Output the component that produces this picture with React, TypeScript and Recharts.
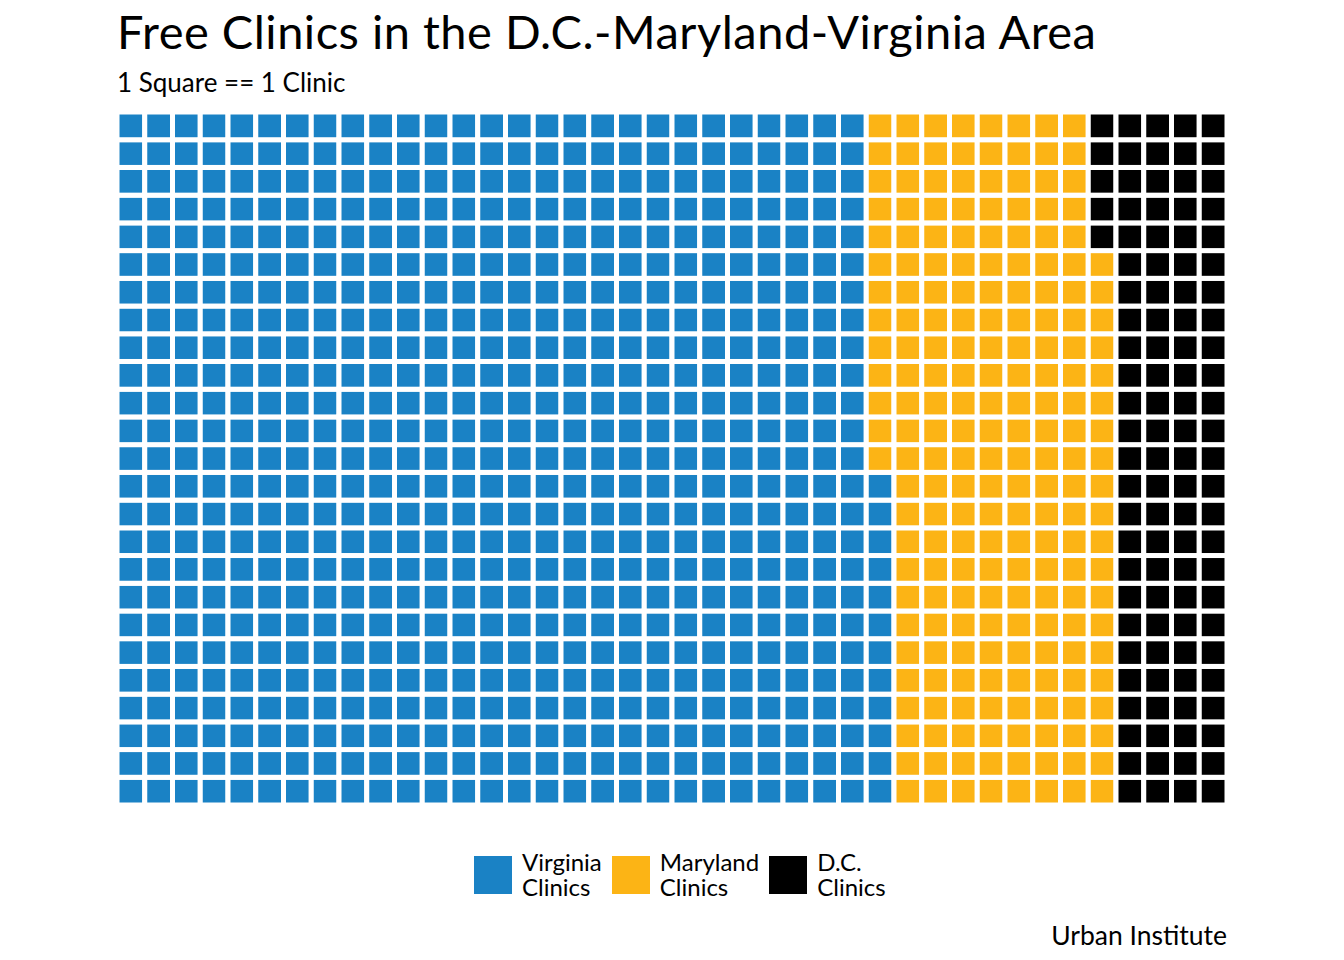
import { ScatterChart, Scatter, XAxis, YAxis, ReferenceArea } from "recharts"

// one square per clinic, 40 columns x 25 rows, filled column by column from the bottom
const categories = ["Virginia Clinics", "Maryland Clinics", "D.C. Clinics"]
const legendLines = [
  ["Virginia", "Clinics"],
  ["Maryland", "Clinics"],
  ["D.C.", "Clinics"],
]
const clinicCounts = [687, 208, 105]
const categoryColors = ["#1a82c5", "#fcb415", "#000000"]
const gridColumns = 40
const gridRows = 25

const chartWidth = 1344
const chartHeight = 960
const margin = { top: 112, right: 117, bottom: 155, left: 117 }
const plotWidth = chartWidth - margin.left - margin.right
const plotHeight = chartHeight - margin.top - margin.bottom
const tileW = plotWidth / gridColumns
const tileH = plotHeight / gridRows

type Cell = { col: number; row: number; category: string }

function buildCells(): Cell[][] {
  const series: Cell[][] = categories.map(() => [])
  let index = 0
  clinicCounts.forEach((count, ci) => {
    for (let k = 0; k < count; k++) {
      const col = Math.floor(index / gridRows)
      const row = index % gridRows
      series[ci].push({ col: col + 0.5, row: row + 0.5, category: categories[ci] })
      index++
    }
  })
  return series
}

const cellSeries = buildCells()

const fontFamily = "Lato, 'Open Sans', sans-serif"

function Tile(props: any) {
  const { cx, cy, fill } = props
  if (cx == null || cy == null) return null
  return (
    <rect
      x={cx - tileW / 2}
      y={cy - tileH / 2}
      width={tileW}
      height={tileH}
      fill={fill}
      stroke="#ffffff"
      strokeWidth={5}
    />
  )
}

export default function App() {
  return (
    <div
      style={{
        position: "absolute",
        top: 0,
        left: 0,
        width: chartWidth,
        height: chartHeight,
        background: "#ffffff",
        fontFamily,
        color: "#000000",
      }}
    >
      <div
        style={{
          position: "absolute",
          left: 117,
          top: 8,
          fontSize: 47,
          letterSpacing: "0.5px",
          lineHeight: 1,
          whiteSpace: "nowrap",
        }}
      >
        Free Clinics in the D.C.-Maryland-Virginia Area
      </div>
      <div
        style={{
          position: "absolute",
          left: 117,
          top: 69,
          fontSize: 26,
          lineHeight: 1,
          whiteSpace: "nowrap",
        }}
      >
        1 Square == 1 Clinic
      </div>

      <div style={{ position: "absolute", left: 0, top: 0 }}>
        <ScatterChart width={chartWidth} height={chartHeight} margin={margin}>
          <XAxis type="number" dataKey="col" domain={[0, gridColumns]} hide />
          <YAxis type="number" dataKey="row" domain={[0, gridRows]} hide />
          <ReferenceArea
            x1={0}
            x2={gridColumns}
            y1={0}
            y2={gridRows}
            fill="none"
            stroke="#e9edf1"
            strokeWidth={1}
            ifOverflow="visible"
          />
          {cellSeries.map((cells, i) => (
            <Scatter
              key={categories[i]}
              name={categories[i]}
              data={cells}
              fill={categoryColors[i]}
              shape={<Tile />}
              isAnimationActive={false}
            />
          ))}
        </ScatterChart>
      </div>

      <div
        style={{
          position: "absolute",
          left: 474,
          top: 849,
          display: "flex",
          alignItems: "flex-start",
        }}
      >
        {categories.map((c, i) => (
          <div key={c} style={{ display: "flex", alignItems: "flex-start", marginRight: 10 }}>
            <div
              style={{
                width: 38,
                height: 38,
                marginTop: 7,
                background: categoryColors[i],
                marginRight: 10,
              }}
            />
            <div style={{ fontSize: 24, lineHeight: "25px", whiteSpace: "nowrap" }}>
              {legendLines[i][0]}
              <br />
              {legendLines[i][1]}
            </div>
          </div>
        ))}
      </div>

      <div
        style={{
          position: "absolute",
          right: chartWidth - 1227,
          top: 922,
          fontSize: 26.5,
          lineHeight: 1,
          whiteSpace: "nowrap",
        }}
      >
        Urban Institute
      </div>
    </div>
  )
}
